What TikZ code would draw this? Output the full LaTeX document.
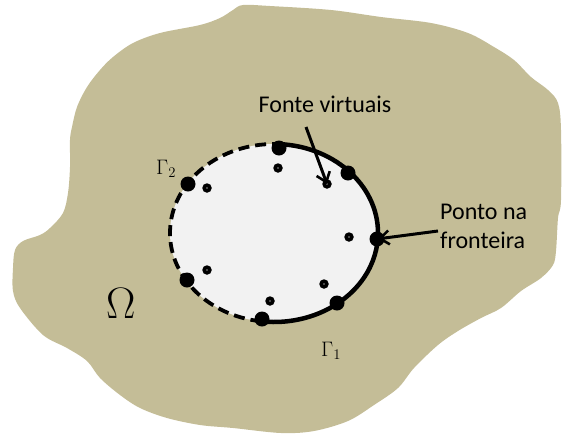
\RequirePackage{fix-cm}
\documentclass[tikz,border=0pt]{standalone}
\usepackage{fontspec}
\setmainfont{Carlito}
\usetikzlibrary{arrows.meta}
\definecolor{blobcol}{RGB}{196,189,151}
\definecolor{holecol}{RGB}{242,242,242}
\tikzset{
  bigdot/.style={circle,fill=black,inner sep=0pt,minimum size=15pt},
  smalldot/.style={circle,fill=black,inner sep=0pt,minimum size=9.5pt},
  pointer/.style={line width=3pt,-{Straight Barb[length=9pt,width=14pt,line width=2.6pt]}},
  lbl/.style={inner sep=0pt,font=\fontsize{24}{29}\selectfont},
  gam/.style={inner sep=0pt,font=\fontsize{21}{25}\selectfont},
}
\begin{document}
\begin{tikzpicture}[x=1pt,y=-1pt]
\useasboundingbox (0,0) rectangle (562,437);
% domain
\fill[blobcol] plot[smooth cycle,tension=0.55] coordinates {
(243,5) (270,6) (331,10) (381,17) (431,23) (468,33) (494,47) (514,60) (531,77)
(548,90) (558,103) (561,130) (561,200) (558,218) (556,251) (553,265) (541,278)
(521,291) (501,308) (481,318) (458,331) (438,345) (414,368) (398,388) (374,405)
(348,421) (314,431) (281,433) (233,428) (200,425) (167,418) (140,408) (120,395)
(100,378) (87,361) (67,348) (43,335) (20,308) (13,291) (13,268) (15,250) (23,241)
(40,235) (50,228) (63,213) (68,193) (70,167) (70,140) (72,127) (77,107) (87,87)
(100,70) (113,57) (133,43) (160,33) (200,25) (220,18) (233,10)};
% hole
\fill[holecol] (274,233) ellipse[x radius=104, y radius=89];
\draw[line width=4.5pt] (274,233) ++(-87:104 and 89) arc[start angle=-87,end angle=97,x radius=104,y radius=89];
\draw[line width=3.8pt,dash pattern=on 11pt off 6pt] (274,233) ++(97:104 and 89) arc[start angle=97,end angle=273,x radius=104,y radius=89];
% boundary points
\node[bigdot] (b1) at (279,148) {};
\node[bigdot] (b2) at (348,173) {};
\node[bigdot] (b3) at (377,239) {};
\node[bigdot] (b4) at (337,303) {};
\node[bigdot] (b5) at (262,319) {};
\node[bigdot] (b6) at (187,280) {};
\node[bigdot] (b7) at (188,184) {};
% virtual sources
\node[smalldot] (s1) at (278,168) {};
\node[smalldot] (s2) at (327,184) {};
\node[smalldot] (s3) at (349,237) {};
\node[smalldot] (s4) at (324,284) {};
\node[smalldot] (s5) at (270,301) {};
\node[smalldot] (s6) at (207,270) {};
\node[smalldot] (s7) at (207,188) {};
\foreach \s in {s1,s2,s3,s4,s5,s6,s7} \fill[holecol!60!black] (\s.center) circle[radius=0.8];
% labels
\node[lbl,anchor=base] (fv) at (325,112) {Fonte virtuais};
\node[lbl,anchor=base west,align=left] (pf) at (440,248) {Ponto na\\fronteira};
\node[inner sep=0pt,anchor=base west,font=\fontsize{44}{50}\selectfont] (om) at (106,318) {$\Omega$};
\node[gam,anchor=base west] (g2) at (156,174) {$\Gamma_{2}$};
\node[gam,anchor=base west] (g1) at (321,356) {$\Gamma_{1}$};
% arrows
\coordinate (a1) at (306,127);
\coordinate (a2) at (438,231);
\draw[pointer] (a1) -- (s2.center);
\draw[pointer,shorten >=1pt] (a2) -- (b3.center);
\end{tikzpicture}
\end{document}
